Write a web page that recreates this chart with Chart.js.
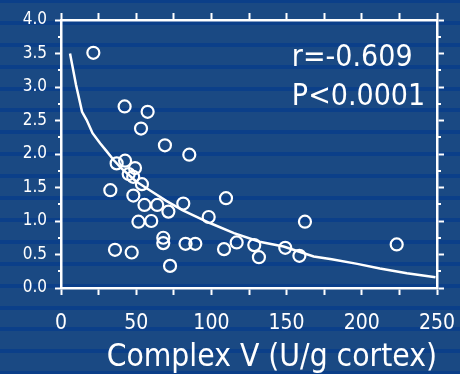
<!DOCTYPE html>
<html>
<head>
<meta charset="utf-8">
<script src="https://cdn.jsdelivr.net/npm/chart.js@4.4.1/dist/chart.umd.min.js"></script>
<style>
html, body { margin: 0; padding: 0; }
body {
    width: 460px; height: 374px; overflow: hidden;
    background: repeating-linear-gradient(180deg, #0b3f89 0px, #0b3f89 4px, #1a4983 4px, #1a4983 21.9px);
    background-position: 0 -1px;
}
canvas { display: block; }
</style>
</head>
<body>
<canvas id="chart" width="460" height="374"></canvas>
<script>
// measured points: complex V activity vs. y value
const complexV = [21.5, 42.3, 57.6, 53.2, 69.1, 85.3, 109.7, 81.3, 64.0, 71.4, 98.2, 60.0, 51.5,
    68.0, 68.0, 82.8, 89.3, 72.5, 108.4, 116.8, 128.5, 131.6, 149.1, 158.5, 162.2, 223.2,
    37.0, 42.6, 49.2, 45.0, 48.0, 53.8, 32.8, 48.1, 55.5, 35.9, 47.0];
const yValues = [3.51, 2.71, 2.63, 2.38, 2.13, 1.99, 1.34, 1.26, 1.24, 1.14, 1.06, 1.00, 0.99,
    0.75, 0.67, 0.66, 0.66, 0.33, 0.58, 0.68, 0.64, 0.46, 0.60, 0.48, 0.99, 0.65,
    1.86, 1.90, 1.79, 1.70, 1.66, 1.55, 1.46, 1.38, 1.24, 0.57, 0.53];

// fitted curve
const fitX = [6, 10, 14, 17, 21, 26, 30, 35, 40, 45, 50, 59, 70, 81, 99, 115, 132, 148, 168, 180, 197, 212, 230, 249];
const fitY = [3.50, 3.03, 2.63, 2.51, 2.31, 2.16, 2.05, 1.91, 1.79, 1.69, 1.59, 1.46, 1.30, 1.16, 0.97, 0.82, 0.69, 0.62, 0.47, 0.43, 0.36, 0.29, 0.22, 0.16];

const xLabelEvery = 50;
const yLabelEvery = 0.5;
const noteLines = ['r=-0.609', 'P<0.0001'];
const xTitle = 'Complex V (U/g cortex)';

const FONT = "'DejaVu Sans Condensed', 'DejaVu Sans', sans-serif";
Chart.defaults.font.family = FONT;
Chart.defaults.color = '#ffffff';

const points = complexV.map((v, i) => ({ x: v, y: yValues[i] }));
const curve = fitX.map((v, i) => ({ x: v, y: fitY[i] }));

const axisBorder = { display: true, color: '#ffffff', width: 2.5 };
const tickGrid = { drawOnChartArea: false, drawTicks: true, tickLength: 7, tickWidth: 2, tickColor: '#ffffff' };

// keep the plot box fixed: no extra room for overhanging labels
function fixBox(w, h) {
    return s => {
        if (w !== null) s.width = w;
        if (h !== null) s.height = h;
        s.paddingLeft = 0; s.paddingRight = 0; s.paddingTop = 0; s.paddingBottom = 0;
    };
}

// short ticks between the labelled y values
const minorTicks = {
    id: 'minorTicks',
    afterDraw(chart) {
        const { ctx, chartArea } = chart;
        const ys = chart.scales.y;
        const ticks = ys.ticks.map(t => t.value);
        ctx.save();
        ctx.strokeStyle = '#ffffff';
        ctx.lineWidth = 2;
        for (let i = 0; i < ticks.length - 1; i++) {
            const py = Math.round(ys.getPixelForValue((ticks[i] + ticks[i + 1]) / 2));
            ctx.beginPath();
            ctx.moveTo(chartArea.left - 3, py); ctx.lineTo(chartArea.left, py);
            ctx.moveTo(chartArea.right, py); ctx.lineTo(chartArea.right + 4, py);
            ctx.stroke();
        }
        ctx.restore();
    }
};

const note = {
    id: 'note',
    afterDatasetsDraw(chart) {
        const { ctx } = chart;
        const xs = chart.scales.x, ys = chart.scales.y;
        ctx.save();
        ctx.fillStyle = '#ffffff';
        ctx.font = '30px ' + FONT;
        ctx.textAlign = 'left';
        ctx.textBaseline = 'middle';
        ctx.fillText(noteLines[0], xs.getPixelForValue(153.5), ys.getPixelForValue(3.43));
        ctx.fillText(noteLines[1], xs.getPixelForValue(153.5), ys.getPixelForValue(2.85));
        ctx.restore();
    }
};

new Chart(document.getElementById('chart'), {
    type: 'scatter',
    data: {
        datasets: [{
            label: 'fit',
            data: curve,
            showLine: true,
            borderColor: '#ffffff',
            borderWidth: 2.5,
            pointRadius: 0,
            tension: 0
        }, {
            label: 'cases',
            data: points,
            pointRadius: 6,
            pointBorderWidth: 2.2,
            pointBorderColor: '#ffffff',
            pointBackgroundColor: 'rgba(0,0,0,0)'
        }]
    },
    options: {
        responsive: false,
        animation: false,
        layout: { padding: 0 },
        plugins: { legend: { display: false }, tooltip: { enabled: false } },
        scales: {
            x: {
                type: 'linear', position: 'bottom', min: 0, max: 250,
                border: axisBorder, grid: tickGrid,
                ticks: {
                    stepSize: 25, padding: 16, maxRotation: 0, autoSkip: false,
                    font: { size: 21 }, color: '#ffffff',
                    callback: v => (v % xLabelEvery === 0 ? String(v) : '')
                },
                title: { display: true, text: xTitle, align: 'end', color: '#ffffff',
                    font: { size: 31.5, lineHeight: 1.05 }, padding: { top: 0, bottom: 0 } },
                afterFit: fixBox(null, 86)
            },
            x2: {
                type: 'linear', position: 'top', min: 0, max: 250,
                border: axisBorder, grid: tickGrid,
                ticks: { stepSize: 25, display: false },
                afterFit: fixBox(null, 20)
            },
            y: {
                type: 'linear', position: 'left', min: 0, max: 4,
                border: axisBorder, grid: Object.assign({}, tickGrid, { tickLength: 6 }),
                ticks: {
                    stepSize: yLabelEvery, padding: 8, font: { size: 17 }, color: '#ffffff',
                    callback: v => v.toFixed(1)
                },
                afterFit: fixBox(61, null)
            },
            y2: {
                type: 'linear', position: 'right', min: 0, max: 4,
                border: axisBorder, grid: Object.assign({}, tickGrid, { tickLength: 7 }),
                ticks: { stepSize: yLabelEvery, display: false },
                afterFit: fixBox(23, null)
            }
        }
    },
    plugins: [minorTicks, note]
});
</script>
</body>
</html>
